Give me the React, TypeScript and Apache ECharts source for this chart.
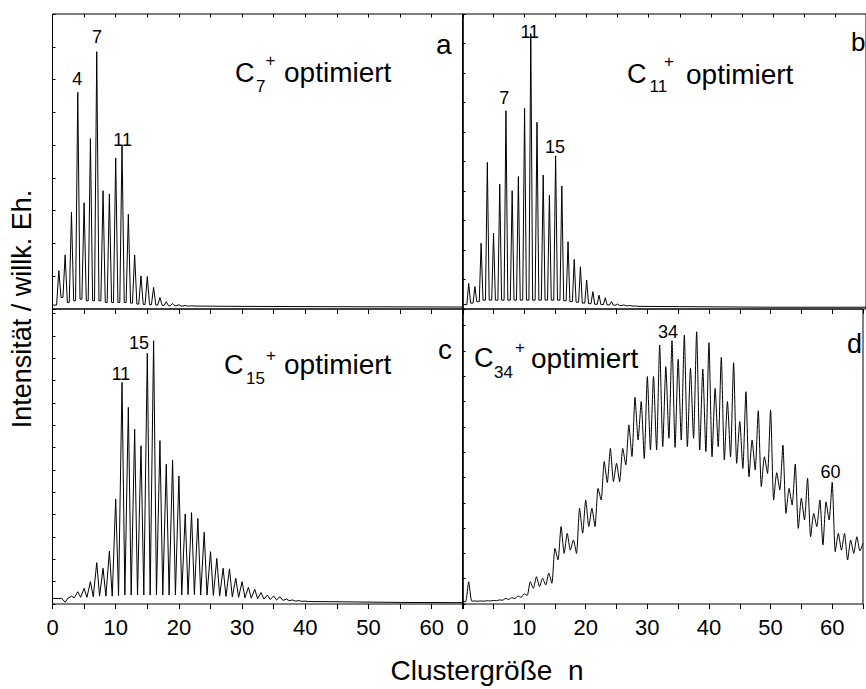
import React, { useEffect, useRef } from "react";
import * as echarts from "echarts";

// ---------- data ----------
// peak heights at integer cluster size n = 1, 2, 3, ... ; valleys = level right after each peak
const startA = [0, 1.2];
const peaksA = [11.7, 16.5, 29.5, 66.1, 32.4, 52.0, 78.5, 36.1, 35.1, 46.1, 50.0, 28.9, 16.5, 10.1, 9.9, 6.6, 3.5, 2.2, 1.7, 1.3, 1.1, 1.0];
const valleysA = [3.5, 2.0, 2.5, 3.0, 2.5, 2.5, 2.5, 2.0, 2.0, 2.0, 2.0, 1.8, 1.5, 1.4, 1.3, 1.2, 1.1, 1.0, 1.0, 0.9, 0.9, 0.9];
const tailA = [[30, 0.8], [45, 0.7], [65, 0.6]];
const labelsA = [[3.92, 70.3, "4"], [7.04, 83.0, "7"], [11.1, 51.7, "11"]];

const startB = [0, 1.5];
const peaksB = [8.7, 7.6, 22.3, 49.7, 25.7, 42.3, 67.2, 40.1, 44.9, 68.0, 93.4, 63.3, 45.4, 38.6, 51.9, 41.7, 22.8, 16.8, 14.3, 9.8, 5.9, 4.7, 3.8, 2.5, 1.7, 1.4, 1.2, 1.0];
const valleysB = [2.0, 2.5, 3.0, 3.0, 3.0, 3.0, 3.0, 3.0, 3.0, 3.0, 3.0, 3.0, 3.0, 3.0, 3.0, 2.8, 2.5, 2.3, 2.0, 1.8, 1.6, 1.5, 1.4, 1.3, 1.2, 1.1, 1.0, 0.9];
const tailB = [[35, 0.8], [50, 0.6], [65, 0.6]];
const labelsB = [[6.72, 71.6, "7"], [10.84, 94.0, "11"], [14.9, 55.0, "15"]];

const startC = [0, 2.5];
const peaksC = [2.5, 0.8, 3.5, 5.5, 7.0, 10.0, 18.5, 16.0, 23.7, 47.0, 99.2, 88.0, 78.2, 70.8, 112.2, 117.8, 73.1, 62.5, 64.4, 57.3, 40.3, 40.9, 38.3, 32.1, 23.4, 20.4, 16.0, 15.7, 11.5, 10.0, 7.5, 6.6, 5.1, 4.0, 3.6, 3.3, 2.2, 1.8, 1.5, 1.3];
const valleysC = [2.5, 2.6, 2.8, 3.0, 3.0, 3.2, 3.5, 3.5, 3.5, 3.8, 4.0, 4.0, 4.0, 4.0, 4.0, 4.0, 4.0, 4.0, 4.0, 4.0, 4.2, 4.2, 4.0, 4.0, 3.8, 3.6, 3.4, 3.2, 3.0, 2.8, 2.6, 2.4, 2.2, 2.0, 1.8, 1.6, 1.5, 1.3, 1.2, 1.1];
const tailC = [[45, 1.0], [55, 0.7], [65, 0.6]];
const labelsC = [[10.84, 102.9, "11"], [13.7, 116.9, "15"]];

const startD = [0, 0.9];
const peaksD = [8.8, 1.2, 1.2, 1.3, 1.4, 1.6, 2.2, 2.5, 3.2, 4.0, 8.8, 10.8, 10.2, 12.2, 22.0, 30.6, 27.9, 25.3, 37.8, 41.1, 37.8, 45.7, 56.3, 61.5, 55.6, 61.5, 70.8, 81.7, 80.0, 89.9, 89.9, 102.4, 93.8, 104.1, 96.7, 106.3, 93.2, 107.6, 92.8, 103.3, 85.2, 97.5, 80.0, 95.4, 72.1, 83.9, 64.8, 76.4, 58.2, 76.7, 51.9, 62.8, 45.7, 55.3, 41.8, 49.7, 35.8, 41.1, 40.4, 48.1, 27.9, 27.9, 25.3, 26.6];
const valleysD = [1.1, 1.1, 1.1, 1.2, 1.3, 1.5, 1.8, 2.1, 2.6, 3.4, 6.2, 6.9, 7.5, 8.2, 17.4, 20.0, 21.3, 20.0, 28.0, 30.6, 30.6, 41.1, 48.0, 48.4, 48.3, 55.0, 58.3, 64.8, 57.5, 60.9, 60.9, 62.2, 65.5, 61.9, 64.8, 62.2, 65.5, 60.9, 60.2, 58.2, 62.2, 56.9, 58.2, 55.6, 53.6, 50.3, 53.0, 46.4, 51.6, 41.1, 45.1, 35.8, 39.1, 29.9, 33.2, 26.6, 30.6, 23.3, 33.2, 20.7, 21.3, 17.4, 20.0, 21.0];
const tailD = [[65, 24.0]];
const labelsD = [[33.35, 107.6, "34"], [59.74, 52.3, "60"]];

const xTicks = [0, 10, 20, 30, 40, 50, 60];
const xMax = 65;
const yMaxes = [90, 100, 132, 116.6];

// ---------- helpers ----------
function buildLine(start: number[], peaks: number[], valleys: number[], w: number, tail: number[][]) {
  const pts: number[][] = [start];
  peaks.forEach((p, i) => {
    const n = i + 1;
    const before = i === 0 ? start[1] : valleys[i - 1];
    pts.push([n - w, before], [n, p], [n + w, valleys[i]]);
  });
  tail.forEach((t) => pts.push(t));
  return pts;
}

const FONT = "'Liberation Sans', Arial, Helvetica, sans-serif";

export default function App() {
  const ref = useRef<HTMLDivElement>(null);
  useEffect(() => {
    if (!ref.current) return;
    const chart = echarts.init(ref.current, undefined, { renderer: "svg" });

    const gL = 52.5, gR = 462.5, gW = 410.8, gT = 14, gM = 309, gH = 295;
    const grids = [
      { left: gL, top: gT, width: gW, height: gH },
      { left: gR, top: gT, width: gW, height: gH },
      { left: gL, top: gM, width: gW, height: gH },
      { left: gR, top: gM, width: gW, height: gH },
    ].map((g) => ({ ...g, show: true, borderColor: "#000", borderWidth: 1, backgroundColor: "transparent", containLabel: false }));

    const xAxis: any[] = [];
    const yAxis: any[] = [];
    for (let i = 0; i < 4; i++) {
      const isBottom = i >= 2;
      xAxis.push({
        type: "value", gridIndex: i, min: 0, max: xMax, interval: 5, position: "bottom",
        axisLine: { show: false },
        splitLine: { show: false },
        axisTick: { show: isBottom, inside: false, length: 5, lineStyle: { color: "#000", width: 1 } },
        axisLabel: {
          show: isBottom, margin: 12, color: "#000", fontSize: 22, fontFamily: FONT,
          formatter: (v: number) => (xTicks.indexOf(v) >= 0 ? String(v) : ""),
        },
      });
      xAxis.push({
        type: "value", gridIndex: i, min: 0, max: xMax, interval: 5, position: "top",
        axisLine: { show: false },
        splitLine: { show: false },
        axisTick: { show: true, inside: true, length: isBottom ? 5 : 3.5, lineStyle: { color: "#000", width: 1 } },
        axisLabel: { show: false },
      });
      yAxis.push({
        type: "value", gridIndex: i, min: 0, max: yMaxes[i], interval: 10, position: "left",
        axisLine: { show: false },
        splitLine: { show: false },
        axisTick: { show: true, inside: true, length: 3, lineStyle: { color: "#000", width: 1 } },
        axisLabel: { show: false },
      });
    }

    const lines = [
      buildLine(startA, peaksA, valleysA, 0.35, tailA),
      buildLine(startB, peaksB, valleysB, 0.3, tailB),
      buildLine(startC, peaksC, valleysC, 0.45, tailC),
      buildLine(startD, peaksD, valleysD, 0.5, tailD),
    ];
    const smoothing = [0, 0, 0, 0.2];
    const labels = [labelsA, labelsB, labelsC, labelsD];

    const series: any[] = lines.map((data, i) => ({
      type: "line", xAxisIndex: i * 2, yAxisIndex: i, data, showSymbol: false, symbol: "none",
      lineStyle: { color: "#000", width: 1 }, clip: true, smooth: smoothing[i], z: 2,
    }));

    const txt = (text: string, x: number, y: number, size: number, align: string = "left") => ({
      type: "text", x, y, z: 10,
      style: { text, fill: "#000", font: `${size}px ${FONT}`, textAlign: align, textVerticalAlign: "middle" },
    });
    const titleGroup = (cx: number, cy: number, sub: string, subX: number, subY: number, plusX: number, plusY: number, optX: number) => [
      txt("C", cx, cy, 27),
      txt(sub, subX, subY, 17),
      txt("+", plusX, plusY, 17),
      txt("optimiert", optX, cy, 28),
    ];

    const graphic: any[] = [
      ...titleGroup(235, 72.5, "7", 256, 86, 265.5, 60, 284),
      ...titleGroup(627, 74, "11", 649.5, 86.5, 664, 61.5, 686),
      ...titleGroup(224, 364.5, "15", 246, 378, 266, 355, 284),
      ...titleGroup(474, 358, "34", 494, 372.5, 515, 347, 531),
      txt("a", 436, 44, 28),
      txt("b", 851, 42, 26),
      txt("c", 438, 349.5, 28),
      txt("d", 847, 343.5, 27),
      {
        type: "text", x: 487, y: 670,
        style: { text: "Clustergröße  n", fill: "#000", font: `28px ${FONT}`, textAlign: "center", textVerticalAlign: "middle" },
      },
      {
        type: "text", x: 22, y: 309, rotation: Math.PI / 2,
        style: { text: "Intensität / willk. Eh.", fill: "#000", font: `27px ${FONT}`, textAlign: "center", textVerticalAlign: "middle" },
      },
    ];

    chart.setOption({
      animation: false,
      backgroundColor: "#fff",
      grid: grids,
      xAxis,
      yAxis,
      series,
      graphic,
    });

    // peak labels placed through each panel's own scales
    const peakLabels: any[] = [];
    labels.forEach((list, i) => {
      list.forEach((l) => {
        const p = chart.convertToPixel({ xAxisIndex: i * 2, yAxisIndex: i }, [l[0] as number, l[1] as number]) as number[];
        peakLabels.push(txt(String(l[2]), p[0], p[1], 18, "center"));
      });
    });
    chart.setOption({ graphic: [...graphic, ...peakLabels] });

    return () => chart.dispose();
  }, []);
  return <div ref={ref} style={{ position: "fixed", left: 0, top: 0, width: 866, height: 689 }} />;
}
